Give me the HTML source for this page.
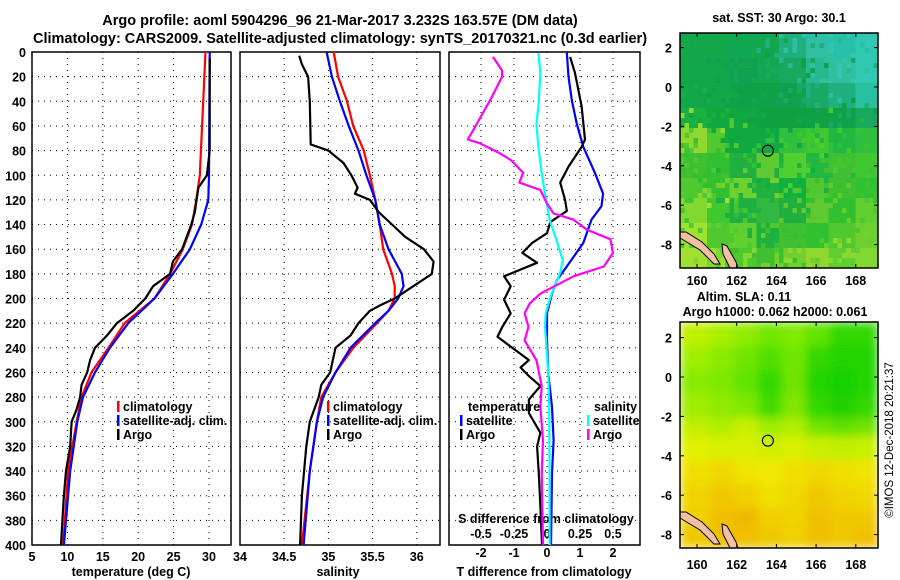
<!DOCTYPE html>
<html><head><meta charset="utf-8"><style>
html,body{margin:0;padding:0;background:#fff;}
svg{display:block;font-family:"Liberation Sans",sans-serif;font-weight:bold;}
</style></head><body>
<svg id="c" width="900" height="580" xmlns="http://www.w3.org/2000/svg">
<defs>
<filter id="blur" x="0" y="0" width="1" height="1"><feGaussianBlur stdDeviation="5" edgeMode="duplicate"/></filter>
<clipPath id="slaClip"><rect x="680" y="322" width="198" height="226"/></clipPath>
</defs>
<text x="340" y="25" font-size="14.5" text-anchor="middle">Argo profile: aoml 5904296_96 21-Mar-2017 3.232S 163.57E (DM data)</text>
<text x="340" y="43" font-size="14.5" text-anchor="middle">Climatology: CARS2009. Satellite-adjusted climatology: synTS_20170321.nc (0.3d earlier)</text>
<g id="maps"></g>
<g id="plots"></g>
<text transform="translate(893,440) rotate(-90)" font-size="11.5" font-weight="normal" text-anchor="middle">©IMOS 12-Dec-2018 20:21:37</text>
</svg>
<script>
// ---- data ----
const climTDepth=[0,100,120,140,160,180,200,220,240,260,280,300,340,400];
const climT=[29.5,28.7,28.2,27.6,26.3,24.5,22.3,18.1,15.8,13.4,12.0,11.3,10.1,9.4];
const satTDepth=[0,100,120,140,160,180,200,220,240,260,280,300,340,400];
const satT=[30.1,30.0,29.9,28.9,27.3,24.9,22.3,18.6,16.0,13.9,12.2,11.4,10.4,9.5];
const argoTDepth=[5,80,90,100,110,130,140,160,170,180,190,200,210,220,230,240,250,260,270,280,290,300,320,340,360,380,400];
const argoT=[30.1,30.1,29.9,29.7,28.5,28.0,27.5,26.2,24.9,24.5,22.1,21.0,19.3,17.0,15.6,13.9,13.2,12.8,12.0,11.8,11.3,10.6,10.4,9.8,9.5,9.3,9.1];
const climSDepth=[0,20,40,60,80,100,120,140,160,180,190,200,210,220,240,260,280,300,340,400];
const climS=[35.06,35.11,35.21,35.28,35.40,35.47,35.53,35.58,35.62,35.72,35.75,35.75,35.68,35.55,35.28,35.08,34.92,34.87,34.79,34.70];
const satS=[34.98,35.04,35.13,35.23,35.34,35.43,35.53,35.58,35.68,35.83,35.85,35.79,35.68,35.53,35.25,35.08,34.94,34.87,34.79,34.72];
const argoSDepth=[3,10,20,40,75,80,90,100,110,115,120,130,140,150,160,170,180,190,200,205,210,220,230,240,260,270,280,300,320,360,400];
const argoS=[34.67,34.70,34.77,34.79,34.80,35.0,35.17,35.26,35.33,35.30,35.47,35.57,35.72,35.87,36.08,36.19,36.17,35.96,35.75,35.60,35.47,35.34,35.25,35.08,35.02,34.92,34.89,34.79,34.75,34.70,34.68];
const satTdDepth=[0,20,39,58,77,98,115,125,136,155,174,185,196,212,234,261,288,315,342,400];
const satTd=[0.6,0.65,0.75,0.9,1.1,1.45,1.7,1.65,1.35,1.1,0.6,0.3,0.15,0.0,0.0,0.04,0.15,0.2,0.15,0.12];
const argoTdDepth=[4,17,44,71,77,93,106,120,129,138,147,155,163,171,182,190,201,212,223,231,239,250,256,263,271,282,293,309,320,342,369,400];
const argoTd=[0.7,0.85,1.05,1.15,1.05,0.65,0.4,0.55,0.6,0.1,0.0,-0.45,-0.75,-0.3,-1.3,-1.1,-1.3,-1.1,-1.35,-1.5,-1.1,-0.55,-0.8,-0.55,-0.2,-0.55,-0.55,-0.2,-0.3,-0.25,-0.2,-0.15];
const satSdDepth=[1,17,44,58,77,98,115,136,152,169,179,196,212,223,261,288,342,400];
const satSd=[-0.065,-0.05,-0.065,-0.08,-0.065,-0.04,-0.015,0.02,0.07,0.12,0.1,0.035,-0.01,-0.015,0.01,0.017,0.02,0.02];
const argoSdDepth=[4,15,20,39,58,71,74,82,88,98,106,112,123,131,136,144,152,163,174,182,196,204,212,223,234,250,271,288,315,342,400];
const argoSd=[-0.41,-0.34,-0.34,-0.43,-0.53,-0.6,-0.51,-0.36,-0.27,-0.18,-0.21,-0.05,0,0.05,0.2,0.3,0.48,0.5,0.43,0.2,-0.05,-0.13,-0.17,-0.14,-0.17,-0.08,-0.04,-0.05,-0.03,-0.04,-0.03];
const depthTicks=[0,20,40,60,80,100,120,140,160,180,200,220,240,260,280,300,320,340,360,380,400];
const tempTicks=[5,10,15,20,25,30];
const salTicks=[34,34.5,35,35.5,36];
const tdTicks=[-2,-1,0,1,2];
const sdTickLabels=["-0.5","-0.25","0","0.25","0.5"];
const sdTicks=[-0.5,-0.25,0,0.25,0.5];
const lonTicks=[160,162,164,166,168];
const latTicks=[2,0,-2,-4,-6,-8];

// ---- axis functions ----
const yD=d=>52+d*1.2325;
const xT=v=>32+(v-5)*7.08;
const xS=v=>240+(v-34)*88.4;
const xTd=v=>547+v*33;
const xSd=v=>547+v*132;
const NS="http://www.w3.org/2000/svg";
const plots=document.getElementById('plots');
const maps=document.getElementById('maps');
function mk(tag,attrs,parent,text){const e=document.createElementNS(NS,tag);for(const k in attrs)e.setAttribute(k,attrs[k]);if(text!==undefined)e.textContent=text;(parent||plots).appendChild(e);return e;}

const panels=[{x0:32,x1:231,name:'temperature-panel'},{x0:240,x1:440,name:'salinity-panel'},{x0:449,x1:640,name:'difference-panel'}];
panels.forEach(p=>{
  const g=mk('g',{});
  
  
  depthTicks.forEach(d=>{if(d>0&&d<400){const l=mk('line',{x1:p.x0,x2:p.x1,y1:yD(d),y2:yD(d),stroke:'#000','stroke-width':1,'stroke-dasharray':'1,5'},g);
    }});
  p.g=g;
});
function vgrid(p,ticks,fx){ticks.forEach(v=>{const x=fx(v);if(x>p.x0+1&&x<p.x1-1){const l=mk('line',{x1:x,x2:x,y1:52,y2:545,stroke:'#000','stroke-width':1,'stroke-dasharray':'1,5'},p.g);
  }});}
vgrid(panels[0],tempTicks,xT);vgrid(panels[1],salTicks,xS);vgrid(panels[2],tdTicks,xTd);
panels.forEach(p=>{const r=mk('rect',{x:p.x0,y:52,width:p.x1-p.x0,height:493,fill:'none',stroke:'#000','stroke-width':1.5});
  });

depthTicks.forEach(d=>{const t=mk('text',{x:26,y:yD(d)+5,'font-size':12.5,'text-anchor':'end'},plots,String(d));
  });
tempTicks.forEach(v=>{const t=mk('text',{x:xT(v),y:561,'font-size':12.5,'text-anchor':'middle'},plots,String(v));
  });
salTicks.forEach(v=>{const t=mk('text',{x:xS(v),y:561,'font-size':12.5,'text-anchor':'middle'},plots,String(v));
  });
tdTicks.forEach(v=>{const t=mk('text',{x:xTd(v),y:557,'font-size':12.5,'text-anchor':'middle'},plots,String(v));
  });
sdTicks.forEach((v,i)=>{const t=mk('text',{x:xSd(v),y:538,'font-size':12.5,'text-anchor':'middle'},plots,sdTickLabels[i]);
  });
let t;
t=mk('text',{x:131,y:576,'font-size':12.5,'text-anchor':'middle'},plots,'temperature (deg C)');
t=mk('text',{x:338,y:576,'font-size':12.5,'text-anchor':'middle'},plots,'salinity');
t=mk('text',{x:544,y:576,'font-size':12.5,'text-anchor':'middle'},plots,'T difference from climatology');
t=mk('text',{x:546,y:523,'font-size':12.5,'text-anchor':'middle'},plots,'S difference from climatology');

function line(depths,vals,fx,color,name){
  const pts=depths.map((d,i)=>fx(vals[i]).toFixed(1)+','+yD(d).toFixed(1)).join(' ');
  const l=mk('polyline',{points:pts,fill:'none',stroke:color,'stroke-width':2.2,'stroke-linejoin':'round'});
  
  
}
line(climTDepth,climT,xT,'#f00','climatology-temperature-line');
line(satTDepth,satT,xT,'#00f','satellite-temperature-line');
line(argoTDepth,argoT,xT,'#000','argo-temperature-line');
line(climSDepth,climS,xS,'#f00','climatology-salinity-line');
line(climSDepth,satS,xS,'#00f','satellite-salinity-line');
line(argoSDepth,argoS,xS,'#000','argo-salinity-line');
line(satTdDepth,satTd,xTd,'#00f','satellite-t-diff-line');
line(argoTdDepth,argoTd,xTd,'#000','argo-t-diff-line');
line(satSdDepth,satSd,xSd,'#0ff','satellite-s-diff-line');
line(argoSdDepth,argoSd,xSd,'#f0f','argo-s-diff-line');

function legend(x,y,color,label,name){
  const g=mk('g',{});
  
  
  mk('rect',{x:x,y:y-10,width:2.5,height:11,fill:color},g);
  mk('text',{x:x+6,y:y,'font-size':12.5},g,label);
}
legend(117,411,'#f00','climatology','legend-climatology-t');
legend(117,425,'#00f','satellite-adj. clim.','legend-satellite-t');
legend(117,439,'#000','Argo','legend-argo-t');
legend(327,411,'#f00','climatology','legend-climatology-s');
legend(327,425,'#00f','satellite-adj. clim.','legend-satellite-s');
legend(327,439,'#000','Argo','legend-argo-s');
t=mk('text',{x:468,y:411,'font-size':12.5},plots,'temperature');
t=mk('text',{x:594,y:411,'font-size':12.5},plots,'salinity');
legend(460,425,'#00f','satellite','legend-satellite-tdiff');
legend(460,439,'#000','Argo','legend-argo-tdiff');
legend(587,425,'#0ff','satellite','legend-satellite-sdiff');
legend(587,439,'#f0f','Argo','legend-argo-sdiff');

// ---- maps ----
function hash(i,j,s){let h=(i*374761393+j*668265263+s*2246822519)|0;h=(h^(h>>>13))*1274126177|0;return ((h^(h>>>16))>>>0)/4294967296;}
const sstCoarse=[
 ['#14a84a','#14a84a','#10a850','#12a850','#20b080','#30c0a0','#28c0a8','#30c8b0'],
 ['#10a84a','#10a84a','#10a050','#12a850','#18a860','#28b890','#30c0a0','#30c8b0'],
 ['#10a848','#10a848','#10a048','#10a048','#10a050','#18a868','#20b080','#28c0a0'],
 ['#18b040','#10a840','#10a840','#10a040','#10a040','#10a048','#10a048','#18a860'],
 ['#90d830','#50c830','#10a840','#10a840','#30c040','#40c830','#20b840','#30c040'],
 ['#40c030','#30c030','#20b040','#60c830','#50d030','#20b840','#40c030','#40c830'],
 ['#50c830','#30c030','#70d030','#20b040','#10b040','#50c830','#40c030','#30c030'],
 ['#80d830','#40c830','#20b040','#30b840','#20b040','#60c830','#30c030','#60d030'],
 ['#a0e030','#50c830','#60d030','#20b040','#40c030','#30c030','#50c830','#70d030'],
 ['#a0e030','#80d830','#50c830','#40c030','#70d030','#90d830','#60d030','#80d830']];
const slaCoarse=[
 ['#c0f000','#a8f000','#90ec00','#70e800','#80ea00','#60e400','#30d800','#30d800'],
 ['#a0ee00','#88ea00','#70e600','#50e000','#70e600','#30d800','#20d400','#20d400'],
 ['#88ea00','#80e800','#60e400','#30d800','#70e400','#20d400','#18d000','#20d400'],
 ['#a0ec00','#90ea00','#80e800','#40dc00','#80e600','#30d800','#20d000','#30d800'],
 ['#c0f000','#b0ee00','#c8f000','#a0ec00','#b0ee00','#70e400','#60e000','#70e400'],
 ['#e0f000','#d8f000','#d8f000','#d0f000','#d8f000','#c8f000','#c0f000','#c8f000'],
 ['#f0e000','#f0d800','#f0e400','#f0e800','#f0e000','#f0d800','#f0e000','#f0e400'],
 ['#f0d400','#f0c800','#f0d000','#f0e000','#f0d800','#f0c800','#f0d400','#f0d800'],
 ['#f0d000','#f0c000','#f0b800','#f0d000','#f0d400','#f0c000','#f0c800','#f0c800'],
 ['#f0c800','#f0c000','#f0c000','#f0c800','#f0d000','#f0c000','#f0c800','#f0c000']];
function drawMap(x0,y0,w,h,coarse,noisy,name,titleLines,lat0y,lonLabelY){
  const g=mk('g',{},maps);
  
  
  const cg=mk('g',noisy?{}:{'clip-path':'url(#slaClip)'},g);
  const inner=mk('g',noisy?{}:{filter:'url(#blur)'},cg);
  const cw=noisy?4.5:6,ch=noisy?5:6;
  const nx=Math.ceil(w/cw),ny=Math.ceil(h/ch);
  for(let j=0;j<ny;j++)for(let i=0;i<nx;i++){
    const ci=Math.min(7,Math.floor(i*cw/w*8)),cj=Math.min(9,Math.floor(j*ch/h*10));
    let c=coarse[cj][ci];
    if(noisy){const r=hash(i,j,1);if(r<0.25){const ci2=Math.min(7,Math.max(0,ci+(r<0.12?-1:1)));c=coarse[Math.min(9,cj+(r<0.06?1:0))][ci2];}}
    mk('rect',{x:x0+i*cw,y:y0+j*ch,width:Math.min(cw,w-i*cw)+0.3,height:Math.min(ch,h-j*ch)+0.3,fill:c},inner);
  }
  mk('polygon',{points:`${x0},${y0+h-36} ${x0+6},${y0+h-36} ${x0+22},${y0+h-26} ${x0+34},${y0+h-14} ${x0+40},${y0+h-4} ${x0+34},${y0+h-4} ${x0+20},${y0+h-18} ${x0},${y0+h-30}`,fill:'#f0c0a0',stroke:'#000','stroke-width':1},g);
  mk('polygon',{points:`${x0+42},${y0+h-24} ${x0+47},${y0+h-22} ${x0+56},${y0+h-6} ${x0+58},${y0+h} ${x0+50},${y0+h} ${x0+43},${y0+h-14}`,fill:'#f0c0a0',stroke:'#000','stroke-width':1},g);
  mk('rect',{x:x0,y:y0,width:w,height:h,fill:'none',stroke:'#000','stroke-width':1.5},g);
  lonTicks.forEach(v=>{const x=697+(v-160)*19.85;
    mk('line',{x1:x,x2:x,y1:y0,y2:y0+4,stroke:'#000'},g);mk('line',{x1:x,x2:x,y1:y0+h,y2:y0+h-4,stroke:'#000'},g);
    const tl=mk('text',{x:x,y:lonLabelY,'font-size':12.5,'text-anchor':'middle'},g,String(v));
    });
  latTicks.forEach(v=>{const y=lat0y-v*19.7;
    mk('line',{x1:x0,x2:x0+4,y1:y,y2:y,stroke:'#000'},g);mk('line',{x1:x0+w,x2:x0+w-4,y1:y,y2:y,stroke:'#000'},g);
    const tl=mk('text',{x:x0-8,y:y+5,'font-size':12.5,'text-anchor':'end'},g,String(v));
    });
  const m=mk('circle',{cx:697+3.57*19.85,cy:lat0y+3.232*19.7,r:5.5,fill:'none',stroke:'#000','stroke-width':1.2},g);
  
  titleLines.forEach(tl=>{const tt=mk('text',{x:tl[0],y:tl[1],'font-size':12.5,'text-anchor':'middle'},g,tl[2]);
    });
}
drawMap(680,33,198,235,sstCoarse,true,'sst-map',[[779,22,'sat. SST: 30 Argo: 30.1']],87,285);
drawMap(680,322,198,226,slaCoarse,false,'sla-map',[[744,301,'Altim. SLA: 0.11'],[775,316,'Argo h1000: 0.062 h2000: 0.061']],377,569);
</script>
</body></html>
